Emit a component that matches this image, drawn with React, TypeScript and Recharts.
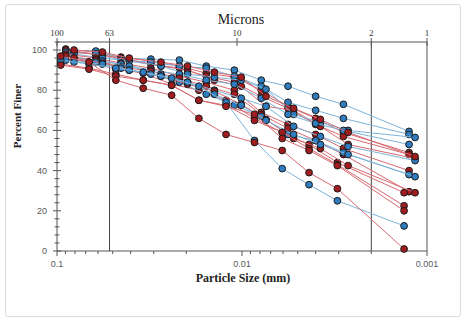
import React from 'react';
import { ScatterChart, Scatter, XAxis, YAxis, ReferenceLine } from 'recharts';

// particle diameters (mm) for the three reading sets used by the samples
const sizesA = [0.0955, 0.0671, 0.0481, 0.0342, 0.024, 0.0171, 0.0122, 0.00856, 0.00606, 0.00434, 0.00305, 0.00133];
const sizesB = [0.0897, 0.0617, 0.0451, 0.0311, 0.0218, 0.0156, 0.011, 0.00787, 0.00564, 0.004, 0.00283, 0.00125];
const sizesC = [0.0809, 0.0568, 0.0407, 0.0274, 0.0197, 0.0141, 0.0101, 0.00742, 0.00526, 0.00377, 0.00267, 0.00116];

// percent finer, blue samples
const blueSizes = [sizesB, sizesB, sizesC, sizesB, sizesC, sizesB, sizesC, sizesA];
const blueFiner = [
  [100, 99.5, 96, 95.5, 95, 92, 90, 85, 82, 77, 73, 59.5],
  [99, 98, 95, 94, 92, 91, 87, 82, 74, 70, 66, 58],
  [98, 96, 94.5, 92, 88, 86.5, 85, 80.5, 68, 64, 60, 56.5],
  [97, 95, 93, 90, 88, 85, 83, 76, 68, 63.5, 60, 53],
  [96, 94.5, 92, 88, 84, 80, 76, 72, 62, 57, 52, 45],
  [95, 94, 91, 88, 84, 78, 72.5, 67, 58, 55, 49, 38],
  [94, 93, 90, 87, 84, 78, 72.5, 65, 58, 53, 48, 37],
  [95, 93, 91, 89, 86, 82, 74, 55, 41, 33, 25, 12.5],
];

// percent finer, red samples
const redSizes = [sizesB, sizesB, sizesC, sizesB, sizesB, sizesA, sizesC, sizesA, sizesA, sizesA, sizesC];
const redFiner = [
  [100.5, 99, 96.5, 94.5, 92, 88.5, 86.5, 80, 72, 66, 59, 49],
  [100, 98, 96, 93, 91, 87, 84, 77, 71, 63, 57, 48],
  [99, 97.5, 95, 92, 90, 85, 82, 72, 70, 62, 53, 46],
  [98, 96, 93.5, 91, 87, 84, 80, 69, 63, 58, 51, 40],
  [97, 95, 91.5, 89.5, 86, 82, 78, 68, 61, 55, 48, 29.5],
  [96, 94, 90.5, 88.5, 83, 80, 75, 66, 59, 53, 44, 29],
  [96, 93.5, 90, 87, 83, 79.5, 73, 65.5, 56, 51, 42.5, 29],
  [93, 91, 88, 85, 82.5, 75, 72.5, 65, 59, 51, 43, 22.5],
  [92.5, 90.5, 87, 85, 82.5, 75, 72, 68, 56, 50, 42.5, 20],
  [97, 94, 85, 81, 77.5, 66, 58, 54, 50, 39, 31, 1],
  [100, 99, 96, 94, 92, 89, 86.5, 77, 71, 65.5, 59, 47],
];

const bottomTicks = [0.1, 0.09, 0.08, 0.07, 0.06, 0.05, 0.04, 0.03, 0.02, 0.01, 0.009, 0.008, 0.007, 0.006, 0.005, 0.004, 0.003, 0.002, 0.001];
const bottomLabels: Record<string, string> = { '0.1': '0.1', '0.01': '0.01', '0.001': '0.001' };
const topTicks = [0.1, 0.052, 0.01064, 0.002, 0.001];
const topLabels = ['100', '63', '10', '2', '1'];
const yTicks = [0, 4, 8, 12, 16, 20, 24, 28, 32, 36, 40, 44, 48, 52, 56, 60, 64, 68, 72, 76, 80, 84, 88, 92, 96, 100, 104];

const AXIS = '#555';
const SANS = 'Liberation Sans, Arial, sans-serif';
const SERIF = 'Liberation Serif, Times New Roman, serif';

const toPoints = (sizes: number[], finer: number[]) => finer.map((p, i) => ({ d: sizes[i], p }));

const BottomTick = (props: any) => {
  const { x, y, payload } = props;
  const label = bottomLabels[String(payload.value)];
  return (
    <g>
      <line x1={x} x2={x} y1={y} y2={y + (label ? 5 : 3)} stroke={AXIS} />
      {label && (
        <text x={x} y={y + 16} textAnchor="middle" fontSize={9} fill="#595959" fontFamily={SANS}>
          {label}
        </text>
      )}
    </g>
  );
};

const TopTick = (props: any) => {
  const { x, y, index } = props;
  return (
    <g>
      <line x1={x} x2={x} y1={y - 4} y2={y + 4} stroke={AXIS} />
      <text x={x} y={y - 6} textAnchor="middle" fontSize={9} fill="#333" fontFamily={SERIF}>
        {topLabels[index]}
      </text>
    </g>
  );
};

const LeftTick = (props: any) => {
  const { x, y, payload } = props;
  const major = payload.value % 20 === 0;
  return (
    <g>
      <line x1={x - (major ? 4 : 2.5)} x2={x + (major ? 4 : 2.5)} y1={y} y2={y} stroke={AXIS} />
      {major && (
        <text x={x - 10} y={y + 3} textAnchor="end" fontSize={9} fill="#595959" fontFamily={SANS}>
          {payload.value}
        </text>
      )}
    </g>
  );
};

const Dot = (color: string) => (props: any) => (
  <circle cx={props.cx} cy={props.cy} r={3.4} fill={color} stroke="#1b1b1b" strokeWidth={1} />
);

export default function App() {
  const series: { key: string; data: { d: number; p: number }[]; line: string; dot: string }[] = [];
  const n = Math.max(blueFiner.length, redFiner.length);
  for (let i = 0; i < n; i++) {
    if (redFiner[i]) series.push({ key: 'r' + i, data: toPoints(redSizes[i], redFiner[i]), line: '#d66a70', dot: '#a01c1f' });
    if (blueFiner[i]) series.push({ key: 'b' + i, data: toPoints(blueSizes[i], blueFiner[i]), line: '#7db4da', dot: '#2f7cbf' });
  }

  return (
    <div style={{ position: 'absolute', left: 0, top: 0, width: 466, height: 323, background: '#fff' }}>
      <div
        style={{
          position: 'absolute',
          left: 5,
          top: 4,
          width: 454,
          height: 311,
          border: '1px solid #dcdcdc',
          borderRadius: 3,
        }}
      />
      <ScatterChart width={466} height={323} margin={{ top: 12, right: 39, bottom: 32, left: 17 }}>
        <XAxis
          dataKey="d"
          type="number"
          scale="log"
          domain={[0.001, 0.1]}
          reversed
          allowDataOverflow
          ticks={bottomTicks}
          interval={0}
          tick={<BottomTick />}
          tickLine={false}
          tickSize={0}
          tickMargin={0}
          height={40}
          axisLine={{ stroke: AXIS }}
          label={{
            content: () => (
              <text x={243} y={282} textAnchor="middle" fontSize={12} fontWeight="bold" fill="#222" fontFamily={SERIF}>
                Particle  Size (mm)
              </text>
            ),
          }}
        />
        <XAxis
          xAxisId="top"
          orientation="top"
          dataKey="d"
          type="number"
          scale="log"
          domain={[0.001, 0.1]}
          reversed
          allowDataOverflow
          ticks={topTicks}
          interval={0}
          tick={<TopTick />}
          tickLine={false}
          tickSize={0}
          tickMargin={0}
          height={30}
          axisLine={{ stroke: AXIS }}
          label={{
            content: () => (
              <text x={241} y={24} textAnchor="middle" fontSize={14} fill="#222" fontFamily={SERIF}>
                Microns
              </text>
            ),
          }}
        />
        <YAxis
          dataKey="p"
          type="number"
          domain={[0, 104]}
          ticks={yTicks}
          interval={0}
          tick={<LeftTick />}
          tickLine={false}
          tickSize={0}
          tickMargin={0}
          width={40}
          axisLine={{ stroke: AXIS }}
          label={{
            content: () => (
              <text
                x={21}
                y={116}
                transform="rotate(-90 21 116)"
                textAnchor="middle"
                fontSize={11}
                fontWeight="bold"
                fill="#222"
                fontFamily={SERIF}
              >
                Percent Finer
              </text>
            ),
          }}
        />
        <ReferenceLine x={0.052} stroke="#444" />
        <ReferenceLine x={0.002} stroke="#444" />
        <ReferenceLine x={0.001} stroke={AXIS} />
        {series.map((s) => (
          <Scatter
            key={s.key}
            data={s.data}
            line={{ stroke: s.line, strokeWidth: 1 }}
            lineType="joint"
            shape={Dot(s.dot)}
            isAnimationActive={false}
          />
        ))}
      </ScatterChart>
    </div>
  );
}
